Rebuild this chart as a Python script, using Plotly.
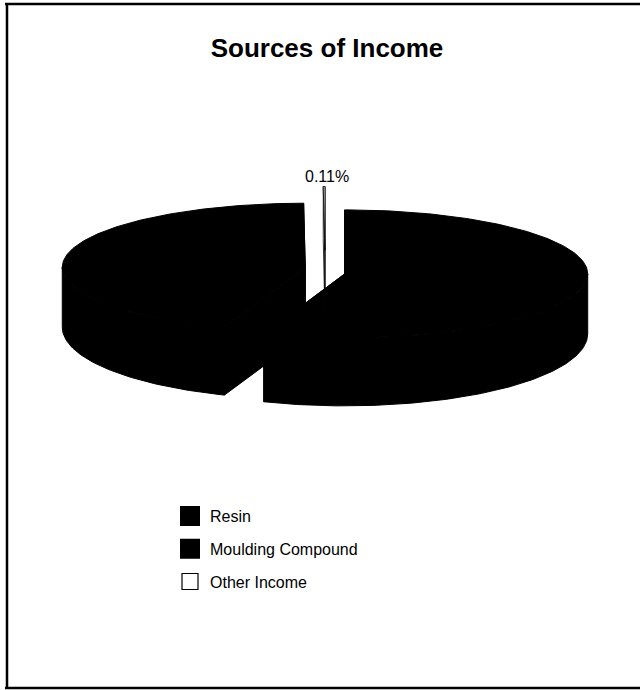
import numpy as np
import plotly.graph_objects as go

# ---------------- data ----------------
categories = ["Resin", "Moulding Compound", "Other Income"]
shares = [55.40, 44.49, 0.11]          # percent of income
slice_colors = ["#000000", "#000000", "#ffffff"]
labelled = [False, False, True]         # only the small slice carries a value label

# ---------------- 3-D pie geometry (styling) ----------------
W, H = 640, 690
CX, CY = 325.0, 270.5      # pie centre (pixels)
A, B = 243.0, 64.0         # ellipse semi-axes of the top face
EXPLODE = 20.0             # explosion distance
D_SIDE, D_FRONT = 60.0, 8.0
D_CENTER = 68.0
FONT = "Liberation Sans, Arial, sans-serif"


def rim(theta, cx, cy):
    t = np.radians(theta)
    return cx + A * np.sin(t), cy - B * np.cos(t)


def depth(theta):
    return D_SIDE - D_FRONT * np.cos(np.radians(theta))


total = float(sum(shares))
fig = go.Figure()

slice_geo = []
start = 0.0
for cat, val, col in zip(categories, shares, slice_colors):
    span = val / total * 360.0
    end = start + span
    mid = start + span / 2
    ox = EXPLODE * np.sin(np.radians(mid))
    oy = -EXPLODE * np.cos(np.radians(mid))
    slice_geo.append(dict(cat=cat, col=col, start=start, end=end,
                          cx=CX + ox, cy=CY + oy))
    start = end


def add_poly(xs, ys, fillcol, linecol, lw):
    fig.add_trace(go.Scatter(
        x=list(xs) + [xs[0]], y=list(ys) + [ys[0]],
        mode="lines", fill="toself", fillcolor=fillcol,
        line=dict(color=linecol, width=lw),
        hoverinfo="skip", showlegend=False))


def draw_slice(g, linecol, lw):
    cx, cy, s, e, col = g["cx"], g["cy"], g["start"], g["end"], g["col"]
    # front (visible) outer wall
    ws, we = max(s, 90.0), min(e, 270.0)
    if we > ws:
        th = np.linspace(ws, we, max(3, int(we - ws) + 2))
        tx, ty = rim(th, cx, cy)
        by = ty + depth(th)
        add_poly(np.concatenate([tx, tx[::-1]]),
                 np.concatenate([ty, by[::-1]]), col, linecol, lw)
    # radial cut faces
    for t in (s, e):
        rx, ry = rim(t, cx, cy)
        add_poly([cx, rx, rx, cx],
                 [cy, ry, ry + depth(t), cy + D_CENTER], col, linecol, lw)
    # top face
    th = np.linspace(s, e, max(3, int(e - s) + 2))
    tx, ty = rim(th, cx, cy)
    add_poly(np.concatenate([[cx], tx]), np.concatenate([[cy], ty]),
             col, linecol, lw)


# dark slices first, light one last
for g in slice_geo:
    if g["col"] != "#ffffff":
        draw_slice(g, "#000000", 1)
for g in slice_geo:
    if g["col"] == "#ffffff":
        draw_slice(g, "#000000", 0.8)

# value label for the small slice
for g, val, lab in zip(slice_geo, shares, labelled):
    if lab:
        mid = (g["start"] + g["end"]) / 2
        lx, ly = rim(mid, g["cx"], g["cy"])
        fig.add_annotation(x=lx + 3, y=ly, xref="x", yref="y",
                           text=f"{val:.2f}%", showarrow=False,
                           yanchor="bottom", xanchor="center",
                           font=dict(family=FONT, size=16, color="#000"))

# legend entries
for cat, col in zip(categories, slice_colors):
    dark = col != "#ffffff"
    fig.add_trace(go.Scatter(
        x=[None], y=[None], mode="markers", name=cat, legendgroup=cat,
        marker=dict(symbol="square", size=16, color=col,
                    line=dict(color="#000000", width=4 if dark else 1.2)),
        showlegend=True))

# frame lines
for (x0, y0, x1, y1) in [(5, 4, 640, 4), (7, 3, 7, 689), (5, 688, 640, 688)]:
    fig.add_shape(type="line", xref="x", yref="y", x0=x0, y0=y0, x1=x1, y1=y1,
                  line=dict(color="#000000", width=2.5))

fig.update_layout(
    width=W, height=H, autosize=False,
    margin=dict(l=0, r=0, t=0, b=0),
    paper_bgcolor="#ffffff", plot_bgcolor="#ffffff",
    title=dict(text="<b>Sources of Income</b>", x=327 / W, xanchor="center",
               y=1 - 48 / H, yanchor="middle", yref="container",
               font=dict(family=FONT, size=26, color="#000")),
    xaxis=dict(range=[0, W], visible=False, fixedrange=True),
    yaxis=dict(range=[H, 0], visible=False, fixedrange=True),
    showlegend=True,
    legend=dict(x=170 / W, xanchor="left", y=1 - 499 / H, yanchor="top",
                traceorder="grouped", tracegroupgap=9,
                bgcolor="rgba(0,0,0,0)",
                font=dict(family=FONT, size=16, color="#000")),
)

fig.write_html("out.html",
               config={"displayModeBar": False},
               post_script="document.body.style.margin='0';"
                           "document.body.style.overflow='hidden';")
